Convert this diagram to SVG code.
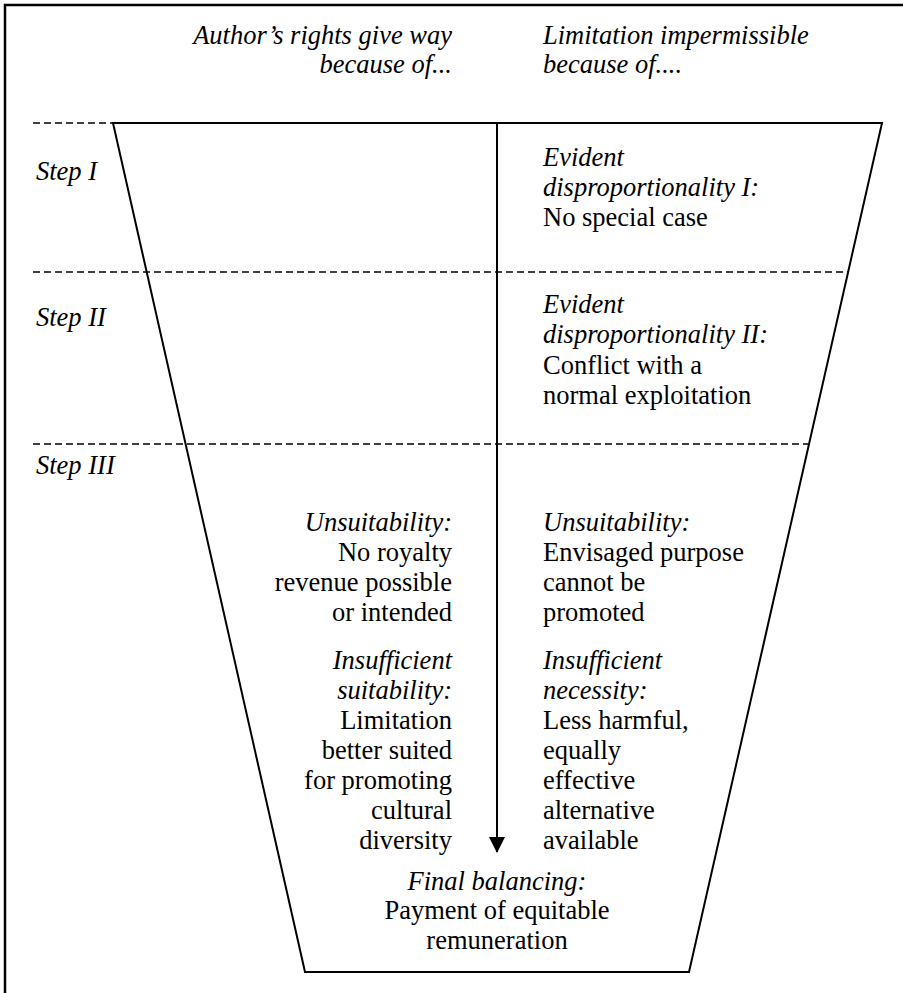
<svg xmlns="http://www.w3.org/2000/svg" width="903" height="993" viewBox="0 0 903 993">
<defs>
<style>
text{font-family:"Liberation Serif","Times New Roman",serif;font-size:26.5px;fill:#000}
.i{font-style:italic}
.r{text-anchor:end}
.m{text-anchor:middle}
.dash{stroke:#000;stroke-width:1.6;stroke-dasharray:7 4;fill:none}
.solid{stroke:#000;stroke-width:2;fill:none}
</style>
<marker id="ah" markerWidth="16" markerHeight="16" refX="15" refY="8" orient="auto" markerUnits="userSpaceOnUse">
<path d="M0,0 L16,8 L0,16 Z" fill="#000"/>
</marker>
</defs>
<rect width="903" height="993" fill="#fff"/>
<path d="M5,993 V5 H903" stroke="#000" stroke-width="2.5" fill="none"/>
<g id="funnel">
<path class="solid" d="M113,123 H882 L689,972 H305 Z"/>
</g>
<g id="connectors">
<line class="dash" x1="33" y1="123" x2="113" y2="123"/>
<line class="dash" x1="33" y1="272" x2="848" y2="272"/>
<line class="dash" x1="33" y1="444" x2="808" y2="444"/>
<line x1="497" y1="123" x2="497" y2="852" stroke="#000" stroke-width="2" marker-end="url(#ah)"/>
</g>
<g id="header-left">
<text class="i r" x="452" y="44">Author’s rights give way</text>
<text class="i r" x="452" y="73">because of...</text>
</g>
<g id="header-right">
<text class="i" x="543" y="44">Limitation impermissible</text>
<text class="i" x="543" y="73">because of....</text>
</g>
<g id="step1">
<text class="i" x="36" y="180">Step I</text>
</g>
<g id="step1-right">
<text class="i" x="543" y="166">Evident</text>
<text class="i" x="543" y="196">disproportionality I:</text>
<text x="543" y="226">No special case</text>
</g>
<g id="step2">
<text class="i" x="36" y="326">Step II</text>
</g>
<g id="step2-right">
<text class="i" x="543" y="313">Evident</text>
<text class="i" x="543" y="343">disproportionality II:</text>
<text x="543" y="374">Conflict with a</text>
<text x="543" y="404">normal exploitation</text>
</g>
<g id="step3">
<text class="i" x="36" y="474">Step III</text>
</g>
<g id="step3-left">
<text class="i r" x="452" y="531">Unsuitability:</text>
<text class="r" x="452" y="561">No royalty</text>
<text class="r" x="452" y="591">revenue possible</text>
<text class="r" x="452" y="621">or intended</text>
<text class="i r" x="452" y="669">Insufficient</text>
<text class="i r" x="452" y="699">suitability:</text>
<text class="r" x="452" y="729">Limitation</text>
<text class="r" x="452" y="759">better suited</text>
<text class="r" x="452" y="789">for promoting</text>
<text class="r" x="452" y="819">cultural</text>
<text class="r" x="452" y="849">diversity</text>
</g>
<g id="step3-right">
<text class="i" x="543" y="531">Unsuitability:</text>
<text x="543" y="561">Envisaged purpose</text>
<text x="543" y="591">cannot be</text>
<text x="543" y="621">promoted</text>
<text class="i" x="543" y="669">Insufficient</text>
<text class="i" x="543" y="699">necessity:</text>
<text x="543" y="729">Less harmful,</text>
<text x="543" y="759">equally</text>
<text x="543" y="789">effective</text>
<text x="543" y="819">alternative</text>
<text x="543" y="849">available</text>
</g>
<g id="final">
<text class="i m" x="497" y="890">Final balancing:</text>
<text class="m" x="497" y="919">Payment of equitable</text>
<text class="m" x="497" y="949">remuneration</text>
</g>
</svg>
